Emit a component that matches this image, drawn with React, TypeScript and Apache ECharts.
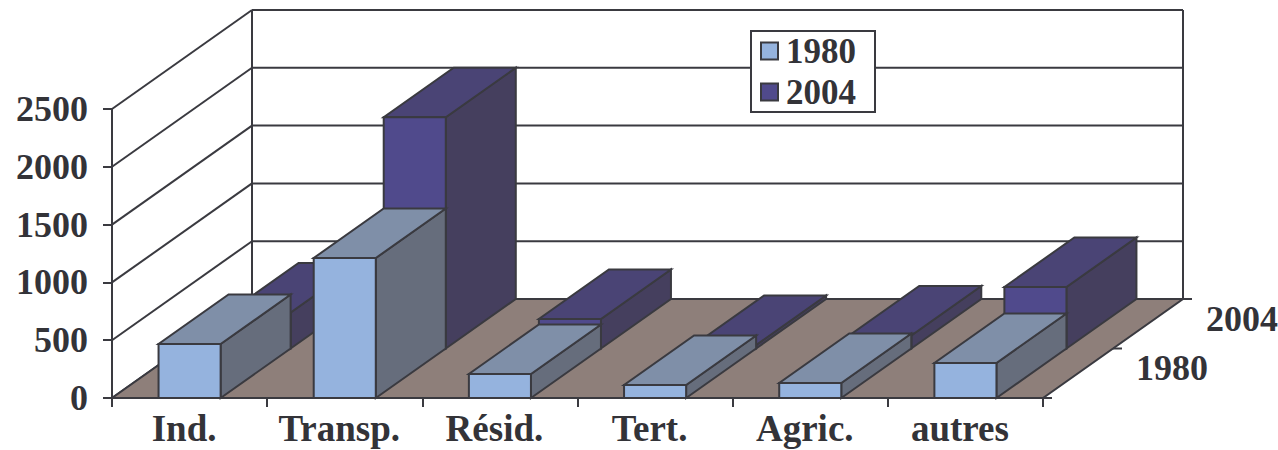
import React, { useEffect, useRef } from "react";
import * as echarts from "echarts";

const categories = ["Ind.", "Transp.", "Résid.", "Tert.", "Agric.", "autres"];
const values1980 = [467, 1211, 208, 112, 130, 303];
const values2004 = [311, 2000, 255, 30, 112, 532];
const depthLabels = ["1980", "2004"];
const yTicks = [0, 500, 1000, 1500, 2000, 2500];

const INK = "#3a3a40";
const TEXT = "#333338";
const FONT = '"Liberation Serif", serif';
const DX = 70;
const DY = -49.5;

type Palette = { front: string; top: string; side: string };
const pal1980: Palette = { front: "#95b3de", top: "#7f8fa8", side: "#666d7c" };
const pal2004: Palette = { front: "#504a8c", top: "#4a4475", side: "#453f5e" };

const poly = (points: number[][], fill: string, lw = 2) => ({
  type: "polygon",
  shape: { points },
  style: { fill, stroke: INK, lineWidth: lw, lineJoin: "miter" },
});
const seg = (x1: number, y1: number, x2: number, y2: number, lw = 2) => ({
  type: "line",
  shape: { x1, y1, x2, y2 },
  style: { stroke: INK, lineWidth: lw, fill: "none" },
});

const barRenderer = (layer: number, p: Palette) => (_: any, api: any) => {
  const i = api.value(0);
  const v = api.value(1);
  const base = api.coord([i, 0]);
  const head = api.coord([i, v]);
  const w = api.size([1, 0])[0] * 0.4;
  const ox = DX * layer;
  const oy = DY * layer;
  const l = base[0] - w / 2 + ox;
  const r = base[0] + w / 2 + ox;
  const b = base[1] + oy;
  const t = head[1] + oy;
  return {
    type: "group",
    children: [
      poly([[r, b], [r + DX, b + DY], [r + DX, t + DY], [r, t]], p.side),
      poly([[l, t], [r, t], [r + DX, t + DY], [l + DX, t + DY]], p.top),
      poly([[l, b], [r, b], [r, t], [l, t]], p.front),
    ],
  };
};

const wallRenderer = (params: any, api: any) => {
  const y = api.coord([0, api.value(0)])[1];
  const c = params.coordSys;
  const lx = c.x;
  const bx = c.x + 2 * DX;
  const rx = c.x + c.width + 2 * DX;
  return {
    type: "group",
    children: [
      seg(lx, y, bx, y + 2 * DY),
      seg(bx, y + 2 * DY, rx, y + 2 * DY),
    ],
  };
};

const frameRenderer = (params: any) => {
  const c = params.coordSys;
  const b = c.y + c.height;
  const lx = c.x;
  const rx = c.x + c.width;
  const bd = b + 2 * DY;
  const td = c.y + 2 * DY;
  return {
    type: "group",
    children: [
      seg(lx + 2 * DX, td, lx + 2 * DX, bd),
      seg(rx + 2 * DX, td, rx + 2 * DX, bd),
      poly([[lx, b], [rx, b], [rx + 2 * DX, bd], [lx + 2 * DX, bd]], "#8e7f7a"),
    ],
  };
};

const depthRenderer = (params: any, api: any) => {
  const c = params.coordSys;
  const i = params.dataIndex;
  const x = c.x + c.width + DX * i;
  const y = c.y + c.height + DY * i;
  const children: any[] = [
    seg(x, y, x + 9, y),
    {
      type: "text",
      style: {
        text: depthLabels[i],
        x: x + 93,
        y: y - 30,
        font: `bold 36px ${FONT}`,
        fill: TEXT,
        textAlign: "left",
        textVerticalAlign: "middle",
      },
    },
  ];
  if (i === depthLabels.length - 1) {
    children.push(seg(x + DX, y + DY, x + DX + 9, y + DY));
  }
  return { type: "group", children };
};

export default function App() {
  const ref = useRef<HTMLDivElement>(null);
  useEffect(() => {
    const chart = echarts.init(ref.current!, undefined, { renderer: "svg" });
    const axisLine = { show: true, lineStyle: { color: INK, width: 2 } };
    const custom = { type: "custom", clip: false, silent: true };
    chart.setOption({
      animation: false,
      backgroundColor: "#ffffff",
      grid: { left: 112, top: 109, width: 931, height: 289 },
      legend: {
        show: true,
        orient: "vertical",
        left: 751,
        top: 31,
        selectedMode: false,
        backgroundColor: "#ffffff",
        borderColor: INK,
        borderWidth: 2,
        borderRadius: 0,
        padding: [2, 19, 2, 9],
        itemWidth: 17,
        itemHeight: 17,
        itemGap: 5,
        z: 20,
        textStyle: {
          fontFamily: FONT,
          fontWeight: "bold",
          fontSize: 35,
          lineHeight: 36,
          color: TEXT,
          padding: [0, 0, 0, 3],
        },
        data: [
          { name: "1980", icon: "rect", itemStyle: { color: pal1980.front, borderColor: INK, borderWidth: 2 } },
          { name: "2004", icon: "rect", itemStyle: { color: pal2004.front, borderColor: INK, borderWidth: 2 } },
        ],
      },
      xAxis: {
        type: "category",
        data: categories,
        boundaryGap: true,
        axisLine,
        axisTick: { show: true, length: 9, alignWithLabel: false, interval: 0, lineStyle: { color: INK, width: 2 } },
        axisLabel: {
          interval: 0,
          margin: 13,
          fontFamily: FONT,
          fontWeight: "bold",
          fontSize: 37,
          lineHeight: 34,
          color: TEXT,
          padding: [0, 11, 0, 0],
        },
        z: 10,
      },
      yAxis: {
        type: "value",
        min: 0,
        max: 2500,
        interval: 500,
        axisLine,
        axisTick: { show: true, length: 9, lineStyle: { color: INK, width: 2 } },
        splitLine: { show: false },
        axisLabel: {
          margin: 24,
          formatter: (v: number) => String(v),
          fontFamily: FONT,
          fontWeight: "bold",
          fontSize: 36,
          color: TEXT,
          padding: [0, 0, 4, 0],
        },
      },
      series: [
        { ...custom, name: "walls", z: 1, data: yTicks.map((t) => [t]), encode: { y: 0 }, renderItem: wallRenderer },
        { ...custom, name: "frame", z: 2, data: [[0]], encode: { y: 0 }, renderItem: frameRenderer },
        { ...custom, name: "depth", z: 2, data: depthLabels.map((_, i) => [i]), encode: { y: 0 }, renderItem: depthRenderer },
        {
          ...custom,
          name: "2004",
          z: 3,
          itemStyle: { color: pal2004.front },
          data: values2004.map((v, i) => [i, v]),
          encode: { x: 0, y: 1 },
          renderItem: barRenderer(1, pal2004),
        },
        {
          ...custom,
          name: "1980",
          z: 4,
          itemStyle: { color: pal1980.front },
          data: values1980.map((v, i) => [i, v]),
          encode: { x: 0, y: 1 },
          renderItem: barRenderer(0, pal1980),
        },
      ],
    });
    return () => chart.dispose();
  }, []);
  return (
    <div
      ref={ref}
      style={{ position: "absolute", left: 0, top: 0, width: 1278, height: 450 }}
    />
  );
}
